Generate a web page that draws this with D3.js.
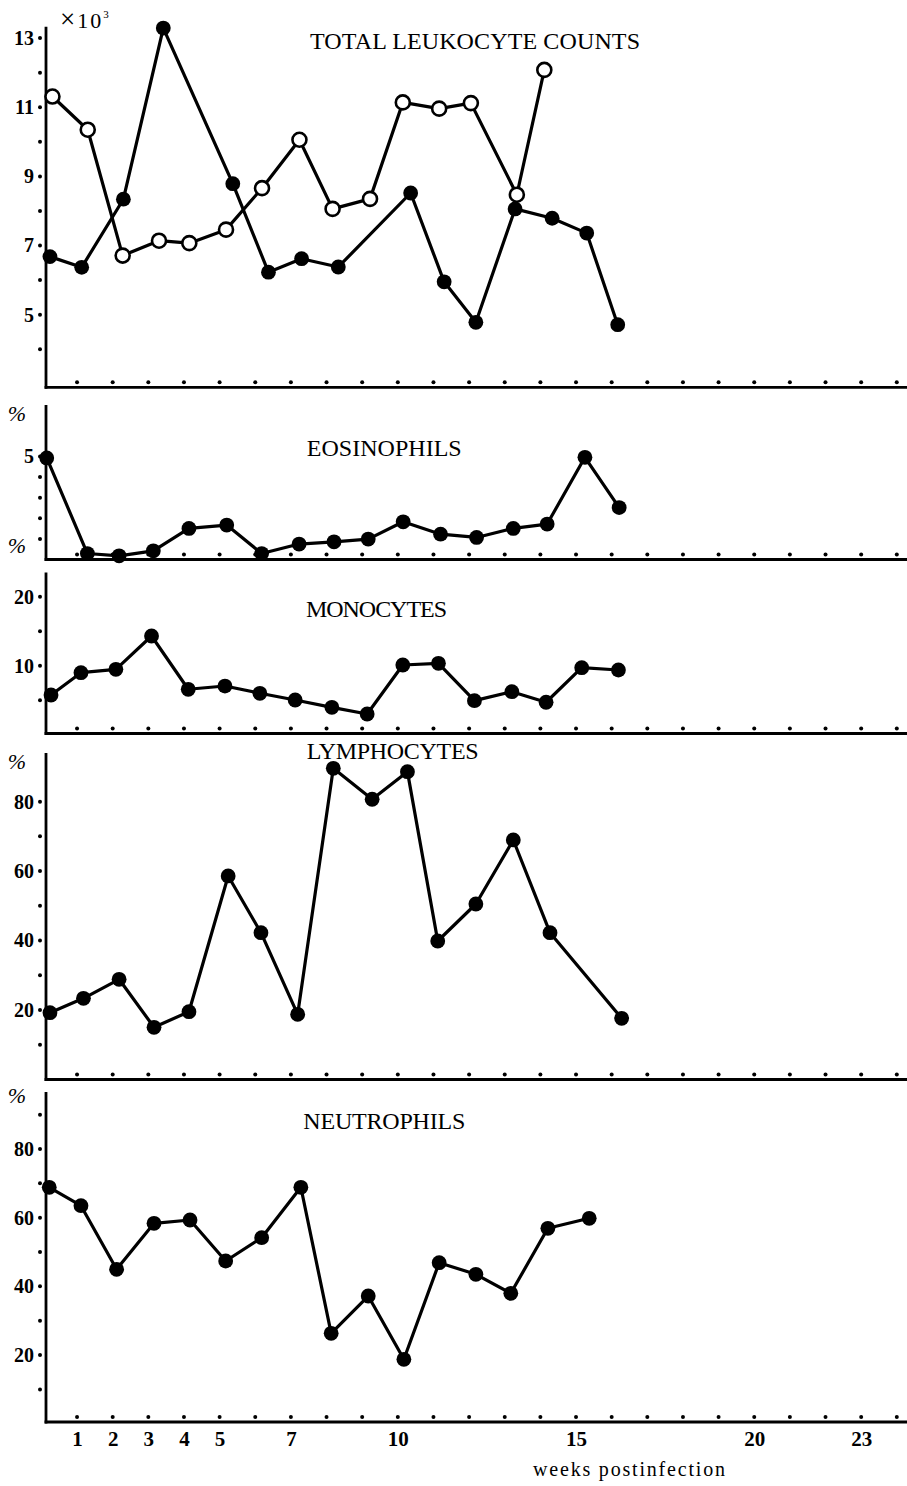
<!DOCTYPE html>
<html>
<head>
<meta charset="UTF-8"/>
<title>Leukocyte counts</title>
<script src="https://d3js.org/d3.v7.min.js"></script>
<style>
body { margin: 0; background: #fff; }
svg { display: block; }
text { font-family: 'Liberation Serif', 'Times New Roman', serif; fill: #000; }
.ylab text { font-size: 20px; font-weight: bold; }
.xlab text { font-size: 21px; font-weight: bold; }
.title { font-size: 24px; }
.axis-line { stroke: #000; stroke-width: 2.8; }
.series { fill: none; stroke: #000; stroke-width: 3.2; stroke-linejoin: round; }
.dot { fill: #000; }
.open { fill: #fff; stroke: #000; stroke-width: 2.6; }
.pct { font-size: 22px; font-style: italic; }
.note { font-size: 22px; }
</style>
</head>
<body>
<svg width="907" height="1486"></svg>
<script>
// ---- data (weeks postinfection) ----
const totalWeeksFilled = [0.24, 1.13, 2.30, 3.42, 5.37, 6.37, 7.30, 8.33, 10.36, 11.30, 12.19, 13.29, 14.33, 15.30, 16.17];
const totalFilled      = [6.68, 6.37, 8.34, 13.29, 8.79, 6.23, 6.62, 6.38, 8.52, 5.95, 4.78, 8.06, 7.79, 7.36, 4.71];
const totalWeeksOpen   = [0.31, 1.30, 2.28, 3.30, 4.15, 5.18, 6.19, 7.24, 8.17, 9.22, 10.14, 11.16, 12.05, 13.34, 14.11];
const totalOpen        = [11.31, 10.35, 6.71, 7.14, 7.07, 7.46, 8.66, 10.06, 8.06, 8.35, 11.14, 10.96, 11.12, 8.47, 12.08];

const eosWeeks = [0.15, 1.29, 2.18, 3.14, 4.14, 5.20, 6.18, 7.23, 8.21, 9.17, 10.15, 11.20, 12.21, 13.24, 14.19, 15.25, 16.21];
const eos      = [4.93, 0.29, 0.18, 0.42, 1.51, 1.67, 0.29, 0.75, 0.86, 0.99, 1.83, 1.23, 1.07, 1.51, 1.72, 4.96, 2.52];

const monoWeeks = [0.27, 1.11, 2.09, 3.09, 4.12, 5.15, 6.13, 7.12, 8.15, 9.14, 10.14, 11.14, 12.15, 13.20, 14.16, 15.16, 16.19];
const mono      = [5.77, 9.0, 9.49, 14.31, 6.6, 7.07, 6.02, 5.05, 3.99, 3.02, 10.11, 10.36, 4.95, 6.25, 4.72, 9.72, 9.39];

const lymphWeeks = [0.24, 1.18, 2.18, 3.16, 4.14, 5.24, 6.16, 7.19, 8.19, 9.28, 10.27, 11.12, 12.19, 13.24, 14.27, 16.28];
const lymph      = [19.23, 23.38, 28.85, 15.03, 19.52, 58.6, 42.27, 18.77, 89.6, 80.68, 88.63, 39.88, 50.53, 68.96, 42.27, 17.62];

const neutWeeks = [0.22, 1.11, 2.11, 3.16, 4.17, 5.17, 6.18, 7.28, 8.13, 9.17, 10.17, 11.16, 12.19, 13.17, 14.21, 15.37];
const neut      = [68.85, 63.49, 44.97, 58.36, 59.32, 47.38, 54.17, 68.85, 26.33, 37.19, 18.76, 46.89, 43.51, 37.98, 56.91, 59.82];

// tick labels
const weekTicks  = [1, 2, 3, 4, 5, 7, 10, 15, 20, 23];
const totalTicks = [5, 7, 9, 11, 13];
const eosTicks   = [5];
const monoTicks  = [10, 20];
const lymphTicks = [20, 40, 60, 80];
const neutTicks  = [20, 40, 60, 80];

// ---- layout ----
const svg = d3.select('svg');
const W = 907;
const axisX = 46;
const x = d3.scaleLinear().domain([0, 24]).range([41.4, 896.8]);
const weekDots = d3.range(1, 25);

const zip = (w, v) => w.map((d, i) => ({ w: d, v: v[i] }));

const panels = [
  { base: 387.3, top: 26.7, lo: 2.9, hi: 13.33, ticks: totalTicks, minor: d3.range(4, 14),
    title: 'TOTAL LEUKOCYTE COUNTS', tx: 310, ty: 49, tw: 330, pct: [],
    series: [ { pts: zip(totalWeeksFilled, totalFilled), open: false },
              { pts: zip(totalWeeksOpen, totalOpen), open: true } ] },
  { base: 559.5, top: 405, lo: 0, hi: 7.5, ticks: eosTicks, minor: [1, 2, 3, 4, 5],
    title: 'EOSINOPHILS', tx: 306.7, ty: 455.5, tw: 155, pct: [7.1, 0.7],
    series: [ { pts: zip(eosWeeks, eos), open: false } ] },
  { base: 733.5, top: 572.5, lo: 0.2, hi: 23.5, ticks: monoTicks, minor: [5, 10, 15, 20],
    title: 'MONOCYTES', tx: 306, ty: 617, tw: 141, pct: [],
    series: [ { pts: zip(monoWeeks, mono), open: false } ] },
  { base: 1079.5, top: 753, lo: 0, hi: 94, ticks: lymphTicks, minor: d3.range(10, 90, 10),
    title: 'LYMPHOCYTES', tx: 306.7, ty: 758.5, tw: 172, pct: [91.6],
    series: [ { pts: zip(lymphWeeks, lymph), open: false } ] },
  { base: 1422, top: 1092, lo: 0.5, hi: 96.6, ticks: neutTicks, minor: d3.range(10, 100, 10),
    title: 'NEUTROPHILS', tx: 303.3, ty: 1128.5, tw: 162, pct: [95.6],
    series: [ { pts: zip(neutWeeks, neut), open: false } ] }
];

panels.forEach((p, idx) => {
  const y = d3.scaleLinear().domain([p.lo, p.hi]).range([p.base, p.top]);
  const g = svg.append('g');

  // axes lines
  g.append('line').attr('class', 'axis-line')
    .attr('x1', axisX).attr('x2', axisX).attr('y1', p.top).attr('y2', p.base + 1.4);
  g.append('line').attr('class', 'axis-line')
    .attr('x1', axisX - 1.4).attr('x2', W).attr('y1', p.base).attr('y2', p.base);

  // week dots along x axis
  g.selectAll('.wdot').data(weekDots).enter().append('circle')
    .attr('class', 'dot').attr('r', 2)
    .attr('cx', d => x(d)).attr('cy', p.base - 5);

  // minor dots along y axis
  g.selectAll('.ydot').data(p.minor).enter().append('circle')
    .attr('class', 'dot').attr('r', 2)
    .attr('cx', axisX - 6).attr('cy', d => y(d));

  // y tick labels
  const ya = g.append('g').attr('class', 'ylab')
    .attr('transform', `translate(${axisX}, 0)`)
    .call(d3.axisLeft(y).tickValues(p.ticks).tickSize(0).tickPadding(12).tickFormat(d3.format('d')));
  ya.select('.domain').remove();

  // percent signs
  g.selectAll('.pct').data(p.pct).enter().append('text')
    .attr('class', 'pct').attr('x', 17).attr('y', d => y(d)).attr('dy', '0.35em')
    .attr('text-anchor', 'middle').text('%');

  // title
  g.append('text').attr('class', 'title')
    .attr('x', p.tx).attr('y', p.ty)
    .attr('textLength', p.tw).attr('lengthAdjust', 'spacing')
    .text(p.title);

  const line = d3.line().x(d => x(d.w)).y(d => y(d.v));
  p.series.forEach(s => {
    g.append('path').attr('class', 'series').attr('d', line(s.pts));
  });
  p.series.forEach(s => {
    g.selectAll(null).data(s.pts).enter().append('circle')
      .attr('class', s.open ? 'open' : 'dot')
      .attr('r', s.open ? 7 : 7.4)
      .attr('cx', d => x(d.w)).attr('cy', d => y(d.v));
  });

  if (idx === panels.length - 1) {
    const xa = g.append('g').attr('class', 'xlab')
      .attr('transform', `translate(0, ${p.base})`)
      .call(d3.axisBottom(x).tickValues(weekTicks).tickSize(0).tickPadding(9));
    xa.select('.domain').remove();
  }
});

// unit note on the top panel
const unit = svg.append('text').attr('class', 'note').attr('x', 60).attr('y', 28);
unit.append('tspan').style('font-size', '27px').style('font-weight', '300').text('\u00d7');
unit.append('tspan').attr('dx', 2).style('letter-spacing', '2px').text('10');
unit.append('tspan').attr('dy', -10).style('font-size', '11px').text('3');

svg.append('text').attr('class', 'note')
  .attr('x', 533).attr('y', 1476)
  .attr('textLength', 192).attr('lengthAdjust', 'spacing')
  .style('font-size', '20px')
  .text('weeks postinfection');
</script>
</body>
</html>
